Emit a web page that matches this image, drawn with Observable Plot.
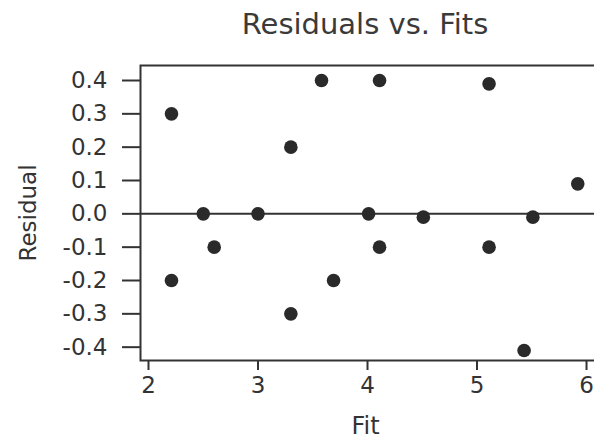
<!DOCTYPE html>
<html>
<head>
<meta charset="utf-8">
<script src="https://cdn.jsdelivr.net/npm/d3@7"></script>
<script src="https://cdn.jsdelivr.net/npm/@observablehq/plot@0.6"></script>
<style>
  html, body { margin: 0; padding: 0; background: #fff; overflow: hidden; width: 594px; height: 441px; }
  #title { position: absolute; top: 7px; left: 0; width: 730px; text-align: center;
           font-family: "DejaVu Sans", sans-serif; font-size: 29px; color: #3a3a3a; white-space: nowrap; }
  #chart { position: absolute; top: 50px; left: 0; }
  #chart svg { max-width: none !important; }
</style>
</head>
<body>
<div id="title">Residuals vs. Fits</div>
<div id="chart"></div>
<script>
const fits      = [2.21, 2.21, 2.50, 2.60, 3.00, 3.30, 3.30, 3.58, 3.69, 4.01, 4.11, 4.11, 4.51, 5.11, 5.11, 5.43, 5.51, 5.92];
const residuals = [0.30, -0.20, 0.00, -0.10, 0.00, 0.20, -0.30, 0.40, -0.20, 0.00, 0.40, -0.10, -0.01, 0.39, -0.10, -0.41, -0.01, 0.09];
const xTicks = [2, 3, 4, 5, 6];
const yTicks = [0.4, 0.3, 0.2, 0.1, 0.0, -0.1, -0.2, -0.3, -0.4];
const xLabel = "Fit";
const yLabel = "Residual";

const data = fits.map((f, i) => ({fit: f, residual: residuals[i]}));
const ink = "#333";
const fmtY = d => (Math.abs(d) < 1e-9 ? 0 : d).toFixed(1);

const chart = Plot.plot({
  width: 610,
  height: 391,
  marginLeft: 140,
  marginRight: 0,
  marginTop: 15,
  marginBottom: 81,
  style: {fontFamily: "DejaVu Sans, sans-serif", background: "#fff", color: ink, maxWidth: "none", overflow: "visible"},
  x: {domain: [1.927, 6.219]},
  y: {domain: [-0.44, 0.445]},
  marks: [
    Plot.frame({stroke: ink, strokeWidth: 2}),
    Plot.ruleY([0], {stroke: ink, strokeWidth: 2}),
    Plot.axisX({ticks: xTicks, tickSize: 10, tickPadding: 6, tickFormat: d => String(d),
      strokeWidth: 2, stroke: ink, fill: ink, fontSize: 23, label: null}),
    Plot.text([xLabel], {frameAnchor: "bottom", lineAnchor: "bottom", dy: 73, dx: -10,
      fill: ink, fontSize: 24}),
    Plot.axisY({ticks: yTicks, tickSize: 18, tickPadding: 15, tickFormat: fmtY,
      strokeWidth: 2, stroke: ink, fill: ink, fontSize: 23,
      label: yLabel, labelArrow: "none", labelAnchor: "center", labelOffset: 121}),
    Plot.dot(data, {x: "fit", y: "residual", r: 6.8, fill: "#2a2a2a", stroke: "none"})
  ]
});
document.getElementById("chart").appendChild(chart);
</script>
</body>
</html>
